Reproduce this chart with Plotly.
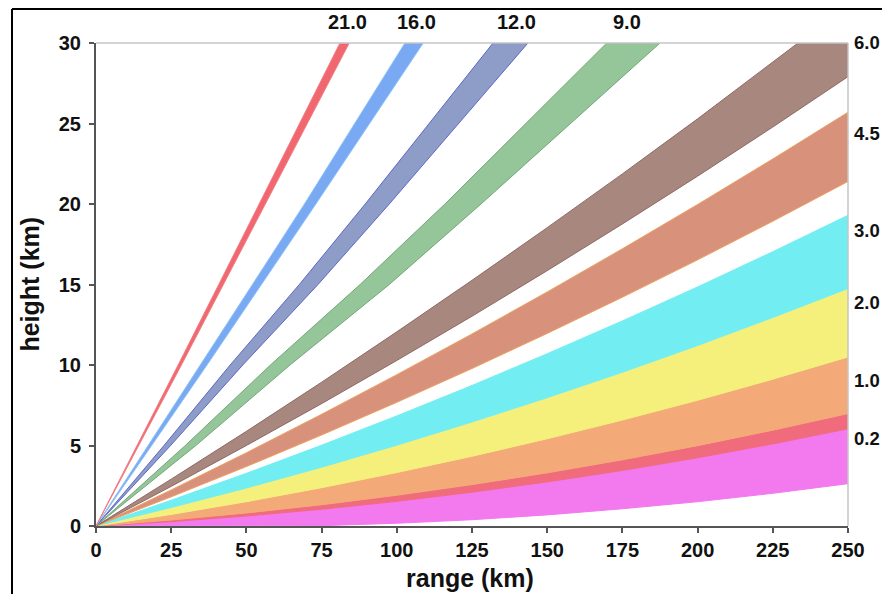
import plotly.graph_objects as go

# ---------------- data ----------------
# Shallow beams: heights (km) of band edges sampled at these ranges (km)
R_KM = [0, 25, 50, 75, 100, 125, 150, 175, 200, 225, 250]
magenta_lo = [0, 0, 0, 0.02, 0.17, 0.39, 0.69, 1.07, 1.51, 2.03, 2.63]
magenta_hi = [0, 0.27, 0.62, 1.04, 1.53, 2.10, 2.74, 3.45, 4.24, 5.10, 6.04]
pink_hi = [0, 0.37, 0.81, 1.32, 1.91, 2.57, 3.30, 4.11, 4.99, 5.95, 6.98]
orange_hi = [0, 0.72, 1.51, 2.38, 3.32, 4.33, 5.42, 6.58, 7.81, 9.12, 10.50]
yellow_hi = [0, 1.15, 2.36, 3.65, 5.02, 6.46, 7.97, 9.55, 11.21, 12.95, 14.75]
cyan_hi = [0, 1.60, 3.27, 5.02, 6.84, 8.73, 10.70, 12.74, 14.85, 17.04, 19.30]
salmon_lo = [0, 1.81, 3.69, 5.65, 7.68, 9.78, 11.96, 14.21, 16.53, 18.93, 21.40]
salmon_hi = [0, 2.24, 4.55, 6.94, 9.40, 11.93, 14.54, 17.22, 19.97, 22.80, 25.70]
brown_lo = [0, 2.46, 5.00, 7.60, 10.28, 13.03, 15.86, 18.76, 21.73, 24.78, 27.91]
brown_hi = [0, 2.91, 5.88, 8.93, 12.06, 15.26, 18.53, 21.87, 25.29, 28.79, 32.35]

# Steep beams: range (km) of the band edges at these heights (km)
H_KM = [0, 5, 10, 15, 20, 25, 30]
green_r_up = [0, 29.7, 58.0, 87.8, 116.0, 142.8, 169.8]
green_r_lo = [0, 33.2, 64.5, 97.5, 128.0, 157.9, 187.5]
purple_r_up = [0, 22.6, 44.6, 67.6, 89.5, 110.6, 132.0]
purple_r_lo = [0, 24.8, 48.8, 73.8, 97.5, 120.4, 143.6]
blue_r_up = [0, 17.4, 34.6, 52.0, 69.3, 85.9, 102.7]
blue_r_lo = [0, 18.5, 36.9, 55.0, 73.1, 91.0, 108.8]
red_r_up = [0, 13.7, 27.3, 40.8, 54.3, 67.7, 81.1]
red_r_lo = [0, 14.2, 28.4, 42.4, 56.4, 70.3, 84.2]

# Elevation labels
TOP_LABELS = ["21.0", "16.0", "12.0", "9.0"]
TOP_LABEL_R = [83.6, 106.7, 139.9, 176.5]
RIGHT_LABELS = ["6.0", "4.5", "3.0", "2.0", "1.0", "0.2"]
RIGHT_LABEL_H = [30.05, 24.36, 18.35, 13.9, 9.04, 5.42]

X_TICKS = [0, 25, 50, 75, 100, 125, 150, 175, 200, 225, 250]
Y_TICKS = [0, 5, 10, 15, 20, 25, 30]
X_MAX = 250
Y_MAX = 30

FONT = "Liberation Sans, Arial, sans-serif"

fig = go.Figure()


def shallow_band(lo, hi, fill, line):
    fig.add_trace(go.Scatter(
        x=R_KM + R_KM[::-1], y=hi + lo[::-1], fill="toself", fillcolor=fill,
        mode="lines", line=dict(color=line, width=1), hoverinfo="skip",
        showlegend=False))


def steep_band(r_up, r_lo, fill, line):
    fig.add_trace(go.Scatter(
        x=r_up + r_lo[::-1], y=H_KM + H_KM[::-1], fill="toself", fillcolor=fill,
        mode="lines", line=dict(color=line, width=1), hoverinfo="skip",
        showlegend=False))


shallow_band(magenta_lo, magenta_hi, "#F279EE", "#F279EE")
shallow_band(magenta_hi, pink_hi, "#F06B7C", "#F06B7C")
shallow_band(pink_hi, orange_hi, "#F4AA78", "#F4AA78")
shallow_band(orange_hi, yellow_hi, "#F5F07C", "#F5F07C")
shallow_band(yellow_hi, cyan_hi, "#72EEF2", "#72EEF2")
shallow_band(salmon_lo, salmon_hi, "#D8927C", "#EDA060")
shallow_band(brown_lo, brown_hi, "#A8877F", "#8F6A66")

steep_band(green_r_up, green_r_lo, "#95C69A", "#74A67A")
steep_band(purple_r_up, purple_r_lo, "#8E9CC8", "#5D68C6")
steep_band(blue_r_up, blue_r_lo, "#79A9F2", "#8CC2F5")
steep_band(red_r_up, red_r_lo, "#F0676F", "#F27E85")

TOP_FONT = dict(family=FONT, size=20, color="#111", weight="bold")
RIGHT_FONT = dict(family=FONT, size=18.5, color="#111", weight="bold")
TITLE_FONT = dict(family=FONT, size=25, color="#111", weight="bold")

annotations = []
for txt, r in zip(TOP_LABELS, TOP_LABEL_R):
    annotations.append(dict(x=r, y=1.0445, xref="x", yref="paper", text=txt,
                            showarrow=False, xanchor="center", yanchor="middle",
                            font=TOP_FONT))
for txt, h in zip(RIGHT_LABELS, RIGHT_LABEL_H):
    annotations.append(dict(x=1.0053, y=h / Y_MAX, xref="paper", yref="paper", text=txt,
                            showarrow=False, xanchor="left", yanchor="middle",
                            font=RIGHT_FONT))
annotations.append(dict(x=-0.089, y=0.5, xref="paper", yref="paper",
                        text="height (km)", textangle=-90, showarrow=False,
                        xanchor="center", yanchor="middle", font=TITLE_FONT))
annotations.append(dict(x=0.4977, y=-0.1067, xref="paper", yref="paper",
                        text="range (km)", showarrow=False,
                        xanchor="center", yanchor="middle", font=TITLE_FONT))

shapes = [
    # light frame on top and right of the plot area
    dict(type="line", xref="paper", yref="paper", x0=0, x1=1, y0=1, y1=1,
         line=dict(color="#C4C4C4", width=1.5), layer="above"),
    dict(type="line", xref="paper", yref="paper", x0=1, x1=1, y0=0, y1=1,
         line=dict(color="#C4C4C4", width=1.5), layer="above"),
    # outer black border (left and top)
    dict(type="line", xref="paper", yref="paper", x0=-0.1117, x1=-0.1117, y0=-0.16, y1=1.0704,
         line=dict(color="#000", width=2)),
    dict(type="line", xref="paper", yref="paper", x0=-0.1117, x1=1.06, y0=1.0704, y1=1.0704,
         line=dict(color="#000", width=2)),
]

axis_common = dict(showgrid=False, zeroline=False, showline=True, linecolor="#555",
                   linewidth=2, ticks="outside", ticklen=5, tickwidth=1.5, tickcolor="#555",
                   tickfont=dict(family=FONT, size=20, color="#111", weight="bold"))

# The page body adds an 8px offset around the figure.
fig.update_layout(
    width=874, height=586,
    margin=dict(l=88, r=34, t=35, b=68),
    paper_bgcolor="white", plot_bgcolor="white",
    showlegend=False,
    xaxis=dict(range=[0, X_MAX], tickvals=X_TICKS, ticktext=[str(v) for v in X_TICKS],
               ticklabelstandoff=0, **axis_common),
    yaxis=dict(range=[0, Y_MAX], tickvals=Y_TICKS, ticktext=[str(v) for v in Y_TICKS],
               ticklabelstandoff=4, **axis_common),
    annotations=annotations,
    shapes=shapes,
)

fig.write_html("out.html")
